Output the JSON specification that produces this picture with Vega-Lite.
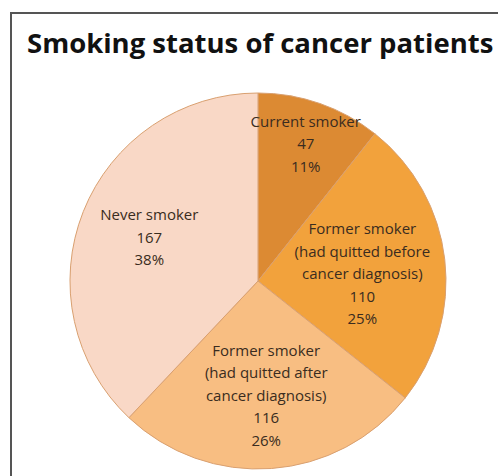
{
  "$schema": "https://vega.github.io/schema/vega-lite/v6.json",
  "autosize": {"type": "none"},
  "padding": {"left": 11, "top": 13, "right": 0, "bottom": 0},
  "width": 494,
  "height": 536,
  "background": "white",
  "view": {"stroke": "#555555", "strokeWidth": 2, "fill": "white"},
  "title": {
    "text": "Smoking status of cancer patients",
    "anchor": "start",
    "frame": "group",
    "orient": "top",
    "offset": -45,
    "dx": 16,
    "font": "Open Sans",
    "fontSize": 27.5,
    "fontWeight": "bold",
    "color": "#111111"
  },
  "data": {
    "values": [
      {"status": "Current smoker", "label": "Current smoker", "count": 47, "pct": 11, "rank": 1},
      {"status": "Former smoker (before)", "label": "Former smoker\n(had quitted before\ncancer diagnosis)", "count": 110, "pct": 25, "rank": 2},
      {"status": "Former smoker (after)", "label": "Former smoker\n(had quitted  after\ncancer diagnosis)", "count": 116, "pct": 26, "rank": 3},
      {"status": "Never smoker", "label": "Never  smoker", "count": 167, "pct": 38, "rank": 4}
    ]
  },
  "transform": [
    {"calculate": "datum.label + '\\n' + datum.count + '\\n' + datum.pct + '%'", "as": "txt"}
  ],
  "encoding": {
    "theta": {"field": "count", "type": "quantitative", "stack": true},
    "order": {"field": "rank", "type": "quantitative"}
  },
  "layer": [
    {
      "mark": {"type": "arc", "outerRadius": 188, "stroke": "#d9a070", "strokeWidth": 1},
      "encoding": {
        "color": {
          "field": "status",
          "type": "nominal",
          "scale": {
            "domain": ["Current smoker", "Former smoker (before)", "Former smoker (after)", "Never smoker"],
            "range": ["#DC8A33", "#F2A23C", "#F8BE82", "#F9D8C6"]
          },
          "legend": null
        }
      }
    },
    {
      "transform": [{"calculate": "datum.rank === 1 ? datum.txt : ''", "as": "t"}],
      "mark": {"type": "text", "font": "Open Sans", "fontSize": 15, "lineBreak": "\n", "lineHeight": 22.5, "align": "center", "baseline": "middle", "dy": -22.5, "radius": 145, "color": "#3a2c20"},
      "encoding": {"text": {"field": "t", "type": "nominal"}}
    },
    {
      "transform": [{"calculate": "datum.rank === 2 ? datum.txt : ''", "as": "t"}],
      "mark": {"type": "text", "font": "Open Sans", "fontSize": 15, "lineBreak": "\n", "lineHeight": 22.5, "align": "center", "baseline": "middle", "dy": -40, "radius": 105, "color": "#3a2c20"},
      "encoding": {"text": {"field": "t", "type": "nominal"}}
    },
    {
      "transform": [{"calculate": "datum.rank === 3 ? datum.txt : ''", "as": "t"}],
      "mark": {"type": "text", "font": "Open Sans", "fontSize": 15, "lineBreak": "\n", "lineHeight": 22.5, "align": "center", "baseline": "middle", "dy": -45, "radius": 115, "color": "#3a2c20"},
      "encoding": {"text": {"field": "t", "type": "nominal"}}
    },
    {
      "transform": [{"calculate": "datum.rank === 4 ? datum.txt : ''", "as": "t"}],
      "mark": {"type": "text", "font": "Open Sans", "fontSize": 15, "lineBreak": "\n", "lineHeight": 22.5, "align": "center", "baseline": "middle", "dy": -22.5, "radius": 117, "color": "#3a2c20"},
      "encoding": {"text": {"field": "t", "type": "nominal"}}
    }
  ]
}
